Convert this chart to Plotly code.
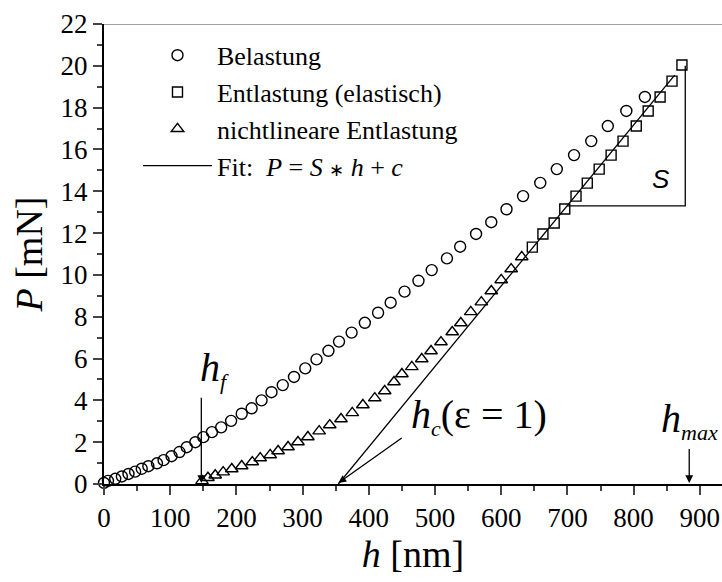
import plotly.graph_objects as go

# Belastung (loading) – open circles
load_h = [0, 6, 17, 27, 37, 47, 57, 67, 80, 90, 102, 114, 125, 138, 150, 163, 177, 192,
          208, 223, 238, 253, 270, 287, 304, 321, 339, 355, 374, 394, 414, 433, 454, 475,
          495, 518, 538, 562, 585, 608, 633, 659, 684, 710, 736, 761, 789, 817]
load_P = [0.05, 0.15, 0.25, 0.36, 0.48, 0.59, 0.73, 0.85, 0.99, 1.14, 1.33, 1.53, 1.76, 2.00,
          2.24, 2.48, 2.71, 3.02, 3.36, 3.62, 4.00, 4.39, 4.73, 5.12, 5.53, 5.96, 6.37, 6.81,
          7.24, 7.71, 8.19, 8.67, 9.20, 9.72, 10.23, 10.79, 11.35, 11.96, 12.52, 13.14, 13.77,
          14.40, 15.06, 15.73, 16.40, 17.12, 17.84, 18.51]

# Entlastung (elastisch) – open squares
unl_h = [873, 858, 840, 822, 804, 784, 766, 748, 730, 713, 696, 680, 663, 647]
unl_P = [20.04, 19.27, 18.51, 17.84, 17.12, 16.40, 15.73, 15.06, 14.39, 13.77, 13.15,
         12.48, 11.96, 11.33]

# nichtlineare Entlastung – open triangles
nl_h = [148, 157, 168, 180, 193, 208, 224, 236, 251, 263, 278, 293, 308, 325, 341, 358, 375,
        391, 409, 424, 438, 450, 465, 480, 494, 509, 526, 539, 554, 570, 585, 600, 615, 631]
nl_P = [0.15, 0.30, 0.42, 0.57, 0.72, 0.86, 1.05, 1.24, 1.39, 1.58, 1.77, 2.01, 2.25, 2.53,
        2.82, 3.11, 3.40, 3.78, 4.11, 4.45, 4.88, 5.26, 5.60, 5.98, 6.36, 6.79, 7.27, 7.70,
        8.23, 8.70, 9.23, 9.76, 10.28, 10.86]

# linear fit P = S*h + c of the elastic unloading
fit_S = 0.0385
fit_c = -13.63
fit_h = [-fit_c / fit_S, 862]
fit_P = [fit_S * h + fit_c for h in fit_h]

# characteristic depths
h_f = 147
h_c = -fit_c / fit_S
h_max = 884

# slope triangle
tri_P0 = 13.3
tri_h0 = (tri_P0 - fit_c) / fit_S
tri_h1 = 878
tri_P1 = 20.0

SERIF = "Liberation Serif"


def sub(txt, px=22):
    return f"<sub><span style='font-size:{px}px'><i>{txt}</i></span></sub>"


fig = go.Figure()
fig.add_trace(go.Scatter(
    x=load_h, y=load_P, mode="markers", name="Belastung", cliponaxis=False,
    marker=dict(symbol="circle-open", size=11, color="black", line=dict(width=1.4))))
fig.add_trace(go.Scatter(
    x=unl_h, y=unl_P, mode="markers", name="Entlastung (elastisch)", cliponaxis=False,
    marker=dict(symbol="square-open", size=10, color="black", line=dict(width=1.4))))
fig.add_trace(go.Scatter(
    x=nl_h, y=nl_P, mode="markers", name="nichtlineare Entlastung", cliponaxis=False,
    marker=dict(symbol="triangle-up-open", size=11, color="black", line=dict(width=1.4))))
fig.add_trace(go.Scatter(
    x=fit_h, y=fit_P, mode="lines",
    name="Fit:  <i>P</i> = <i>S</i> <span style='font-size:18px'>\u2217</span> <i>h</i> + <i>c</i>",
    line=dict(color="black", width=1.3)))
fig.add_trace(go.Scatter(
    x=[tri_h0, tri_h1, tri_h1], y=[tri_P0, tri_P0, tri_P1], mode="lines",
    showlegend=False, line=dict(color="black", width=1.3)))

arrow = dict(showarrow=True, arrowhead=2, arrowsize=1.2, arrowwidth=1.3,
             arrowcolor="black", axref="x", ayref="y", text="")
annotations = [
    dict(x=h_f, y=0.05, ax=h_f, ay=4.2, **arrow),
    dict(x=h_c, y=0.05, ax=452, ay=2.25, **arrow),
    dict(x=h_max, y=0.05, ax=h_max, ay=1.75, **arrow),
    dict(x=142, y=5.5, text="<i>h</i>" + sub("f"), showarrow=False,
         xanchor="left", yanchor="middle", font=dict(family=SERIF, size=40)),
    dict(x=460, y=3.25, text="<i>h</i>" + sub("c") + "(\u03b5 = 1)", showarrow=False,
         xanchor="left", yanchor="middle", font=dict(family=SERIF, size=40)),
    dict(x=838, y=3.05, text="<i>h</i>" + sub("max"), showarrow=False,
         xanchor="left", yanchor="middle", font=dict(family=SERIF, size=40)),
    dict(x=842, y=14.6, text="<i>S</i>", showarrow=False,
         xanchor="center", yanchor="middle",
         font=dict(family="Liberation Sans", size=26)),
]

fig.update_layout(
    width=722, height=582,
    margin=dict(l=104, r=0, t=24, b=98),
    paper_bgcolor="white", plot_bgcolor="white",
    font=dict(family=SERIF, color="black"),
    showlegend=True,
    legend=dict(x=0.055, y=0.983, xanchor="left", yanchor="top",
                bgcolor="rgba(0,0,0,0)", font=dict(family=SERIF, size=26),
                itemwidth=69, tracegroupgap=0),
    annotations=annotations,
    shapes=[dict(type="line", xref="paper", yref="y", x0=0, x1=1, y0=22, y1=22,
                 line=dict(color="#444", width=1))],
    xaxis=dict(range=[0, 933.5], dtick=100, tick0=0, ticks="outside", ticklen=9,
               tickwidth=1.5, showline=True, linewidth=2, linecolor="black",
               showgrid=False, zeroline=False, tickfont=dict(size=27),
               minor=dict(dtick=50, ticks="outside", ticklen=5, tickwidth=1.5),
               title=dict(text="<i>h</i> [nm]", font=dict(size=38), standoff=8)),
    yaxis=dict(range=[0, 22], dtick=2, tick0=0, ticks="outside", ticklen=9,
               tickwidth=1.5, showline=True, linewidth=2, linecolor="black",
               showgrid=False, zeroline=False, tickfont=dict(size=27),
               minor=dict(dtick=1, ticks="outside", ticklen=5, tickwidth=1.5),
               title=dict(text="<i>P</i> [mN]", font=dict(size=38), standoff=6)),
)

fig.write_html("out.html")
